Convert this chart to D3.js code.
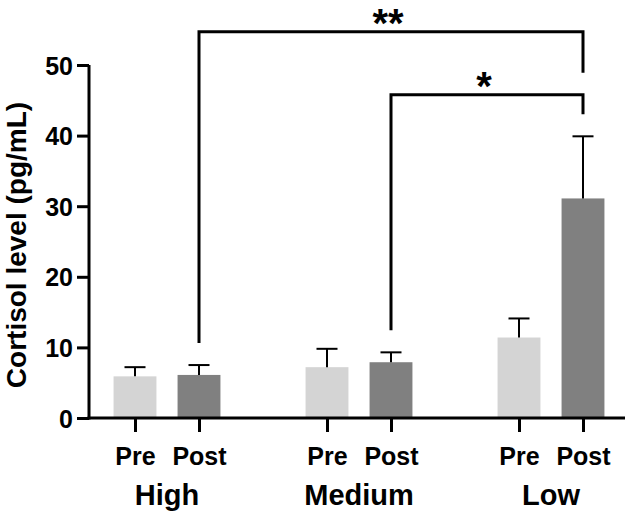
<!DOCTYPE html>
<html>
<head>
<meta charset="utf-8">
<script src="https://cdn.jsdelivr.net/npm/d3@7"></script>
<style>
    body { margin: 0; background: #fff; }
    text { font-family: "Liberation Sans", Arial, sans-serif; font-weight: bold; fill: #000; }
</style>
</head>
<body>
<svg id="chart" width="633" height="516"></svg>
<script>
const groups = ["High", "Medium", "Low"];
const phases = ["Pre", "Post"];
const preMean = [5.9, 7.2, 11.4];
const preSD = [1.3, 2.6, 2.7];
const postMean = [6.1, 7.9, 31.1];
const postSD = [1.4, 1.4, 8.8];
const yTicks = [0, 10, 20, 30, 40, 50];
const comparisons = [
    { from: "Medium|Post", to: "Low|Post", level: 45.8, label: "*" },
    { from: "High|Post", to: "Low|Post", level: 54.7, label: "**" }
];

const colors = { Pre: "#d4d4d4", Post: "#808080" };

// one slot per bar, with an empty slot between groups
const slots = [];
groups.forEach((g, i) => {
    if (i > 0) slots.push("gap" + i);
    phases.forEach(p => slots.push(g + "|" + p));
});

const bars = [];
groups.forEach((g, i) => {
    bars.push({ group: g, phase: "Pre", key: g + "|Pre", mean: preMean[i], sd: preSD[i] });
    bars.push({ group: g, phase: "Post", key: g + "|Post", mean: postMean[i], sd: postSD[i] });
});

const svg = d3.select("#chart");

const x = d3.scalePoint().domain(slots).range([135, 583]);
const y = d3.scaleLinear().domain([0, 50]).range([418, 65]);
const barWidth = x.step() * 0.67;

// bars
svg.append("g")
    .selectAll("rect")
    .data(bars)
    .join("rect")
    .attr("x", d => x(d.key) - barWidth / 2)
    .attr("width", barWidth)
    .attr("y", d => y(d.mean))
    .attr("height", d => y(0) - y(d.mean))
    .attr("fill", d => colors[d.phase]);

// error bars (upper only)
const err = svg.append("g")
    .attr("stroke", "#000")
    .attr("stroke-width", 2)
    .selectAll("g")
    .data(bars)
    .join("g");

err.append("line")
    .attr("x1", d => x(d.key))
    .attr("x2", d => x(d.key))
    .attr("y1", d => y(d.mean))
    .attr("y2", d => y(d.mean + d.sd));

err.append("line")
    .attr("x1", d => x(d.key) - 10.5)
    .attr("x2", d => x(d.key) + 10.5)
    .attr("y1", d => y(d.mean + d.sd))
    .attr("y2", d => y(d.mean + d.sd));

// y axis
const yAxis = svg.append("g")
    .attr("transform", `translate(${89},0)`)
    .call(d3.axisLeft(y).tickValues(yTicks).tickSize(12).tickPadding(4));

yAxis.select(".domain").attr("stroke-width", 3).attr("d", `M0,${y(50)}V${y(0) + 1.5}`);
yAxis.selectAll(".tick line").attr("stroke-width", 3);
yAxis.selectAll(".tick text").style("font-size", "25px").attr("dy", "0.36em");

// x axis
const xAxis = svg.append("g")
    .attr("transform", `translate(0,${y(0)})`)
    .call(d3.axisBottom(x).tickValues(bars.map(d => d.key)).tickSize(14).tickFormat(k => k.split("|")[1]));

xAxis.select(".domain").attr("stroke-width", 3).attr("d", "M87.5,0H625");
xAxis.selectAll(".tick line").attr("stroke-width", 3);
xAxis.selectAll(".tick text").style("font-size", "25px").attr("y", 47).attr("dy", 0);

// group labels
svg.append("g")
    .selectAll("text")
    .data(groups)
    .join("text")
    .attr("x", g => (x(g + "|Pre") + x(g + "|Post")) / 2)
    .attr("y", 505)
    .attr("text-anchor", "middle")
    .style("font-size", "29px")
    .text(g => g);

// y title
svg.append("text")
    .attr("transform", "translate(26,245) rotate(-90)")
    .attr("text-anchor", "middle")
    .style("font-size", "28px")
    .text("Cortisol level (pg/mL)");

// significance brackets
const capTop = key => {
    const b = bars.find(d => d.key === key);
    return y(b.mean + b.sd);
};

const legEnd = (key, c) => {
    let top = capTop(key);
    comparisons.forEach(o => {
        if (o !== c && o.level < c.level && (o.from === key || o.to === key)) top = Math.min(top, y(o.level));
    });
    return top - 22;
};

const brackets = svg.append("g")
    .selectAll("g")
    .data(comparisons)
    .join("g");

brackets.append("path")
    .attr("fill", "none")
    .attr("stroke", "#000")
    .attr("stroke-width", 3)
    .attr("d", c => `M${x(c.from)},${legEnd(c.from, c)}V${y(c.level)}H${x(c.to)}V${legEnd(c.to, c)}`);

brackets.append("text")
    .attr("x", c => (x(c.from) + x(c.to)) / 2 - 3)
    .attr("y", c => y(c.level) + 5)
    .attr("text-anchor", "middle")
    .style("font-size", "40px")
    .text(c => c.label);
</script>
</body>
</html>
